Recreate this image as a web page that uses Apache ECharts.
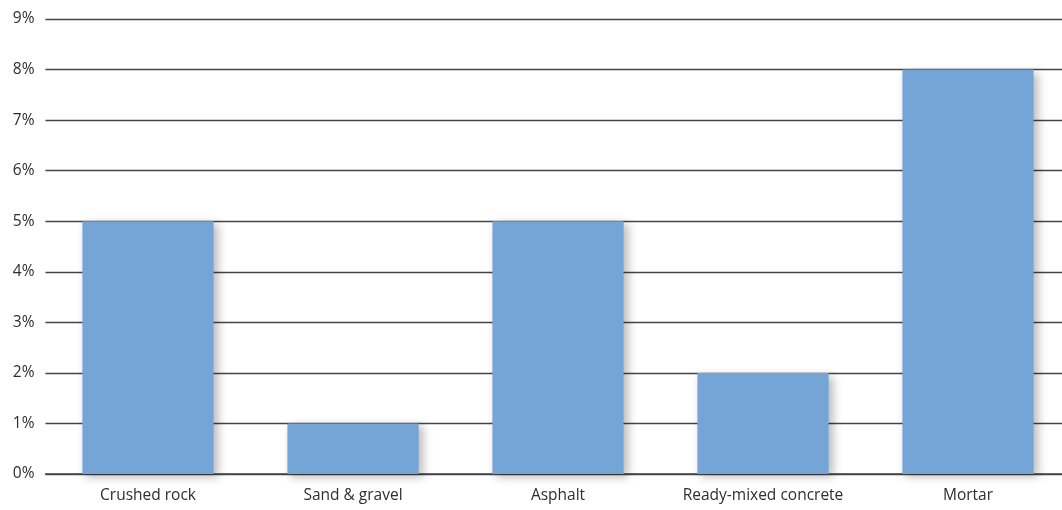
<!DOCTYPE html>
<html><head><meta charset="utf-8">
<script src="https://cdn.jsdelivr.net/npm/echarts@6/dist/echarts.min.js"></script>
<style>html,body{margin:0;padding:0;background:#fff}#c{width:1062px;height:510px}</style>
</head><body><div id="c"></div>
<script>
const categories = ['Crushed rock', 'Sand & gravel', 'Asphalt', 'Ready-mixed concrete', 'Mortar'];
const values = [5, 1, 5, 2, 8];
const yMin = 0, yMax = 9, yStep = 1;

const chart = echarts.init(document.getElementById('c'), null, {renderer: 'canvas'});
chart.setOption({
  animation: false,
  backgroundColor: '#fff',
  grid: {left: 45.5, width: 1025, top: 19, bottom: 36, containLabel: false, outerBoundsMode: 'none'},
  xAxis: {
    type: 'category',
    data: categories,
    axisLine: {show: true, lineStyle: {color: '#444', width: 1.5}},
    axisTick: {show: false},
    axisLabel: {color: '#2e2e2e', fontFamily: 'Open Sans', fontSize: 15.5, margin: 14, interval: 0, hideOverlap: false}
  },
  yAxis: {
    type: 'value',
    min: yMin, max: yMax, interval: yStep,
    axisLine: {show: false},
    axisTick: {show: false},
    axisLabel: {color: '#2e2e2e', fontFamily: 'Open Sans', fontSize: 15.5, margin: 11, formatter: v => v + '%'},
    splitLine: {show: true, lineStyle: {color: '#444', width: 1.3}}
  },
  series: [{
    type: 'bar',
    data: values,
    barWidth: '64%',
    itemStyle: {
      color: '#75a5d6',
      shadowColor: 'rgba(0,0,0,0.28)',
      shadowBlur: 9,
      shadowOffsetX: 4,
      shadowOffsetY: 3
    }
  }]
});
</script></body></html>
